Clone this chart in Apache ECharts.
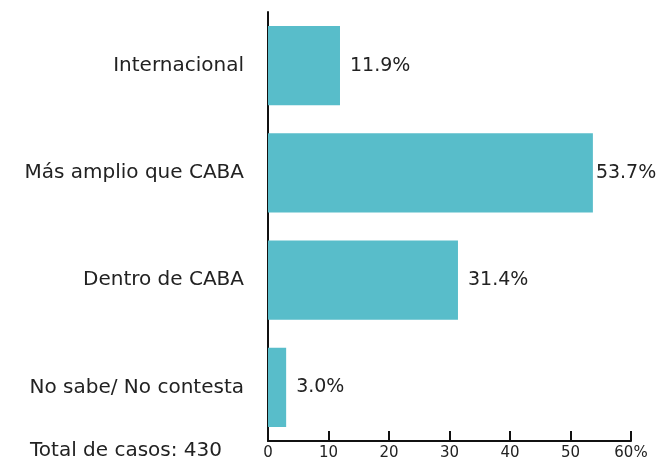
<!DOCTYPE html>
<html>
<head>
<meta charset="utf-8">
<script src="https://cdn.jsdelivr.net/npm/echarts@6/dist/echarts.min.js"></script>
<style>
  html, body { margin: 0; padding: 0; background: #fff; }
  #chart { width: 658px; height: 461px; }
</style>
</head>
<body>
<div id="chart"></div>
<script>
// categories from bottom to top
const categories = ['No sabe/ No contesta', 'Dentro de CABA', 'Más amplio que CABA', 'Internacional']
const values = [3.0, 31.4, 53.7, 11.9]
const xTicks = [0, 10, 20, 30, 40, 50, 60]
const totalText = 'Total de casos: 430'

const barColor = '#58bdca'
const textColor = '#222222'
const fontFamily = '"DejaVu Sans", sans-serif'

const chart = echarts.init(document.getElementById('chart'))

const option = {
  animation: false,
  grid: { left: 268, right: 27, top: 12, bottom: 20, containLabel: false },
  xAxis: {
    type: 'value',
    min: xTicks[0],
    max: xTicks[xTicks.length - 1],
    interval: 10,
    splitLine: { show: false },
    axisLine: { show: true, lineStyle: { color: '#111', width: 2 } },
    axisTick: { show: true, inside: true, length: 10, lineStyle: { color: '#111', width: 2 } },
    axisLabel: {
      color: textColor,
      fontSize: 15,
      fontFamily: fontFamily,
      margin: 5,
      formatter: v => (v === 60 ? '60%' : String(v))
    }
  },
  yAxis: {
    type: 'category',
    data: categories,
    axisLine: { show: true, lineStyle: { color: '#111', width: 2 } },
    axisTick: { show: false },
    axisLabel: {
      color: textColor,
      fontSize: 20,
      fontFamily: fontFamily,
      margin: 24
    }
  },
  series: [{
    type: 'bar',
    data: values.map((v, i) => ({
      value: v,
      label: { distance: v > 50 ? 3 : 10 }
    })),
    barWidth: '74%',
    itemStyle: { color: barColor },
    label: {
      show: true,
      position: 'right',
      color: textColor,
      fontSize: 19,
      fontFamily: fontFamily,
      formatter: p => p.value.toFixed(1) + '%'
    }
  }],
  graphic: [{
    type: 'text',
    left: 30,
    top: 441,
    style: {
      text: totalText,
      fill: textColor,
      font: '20px ' + fontFamily
    }
  }]
}

chart.setOption(option)
</script>
</body>
</html>
